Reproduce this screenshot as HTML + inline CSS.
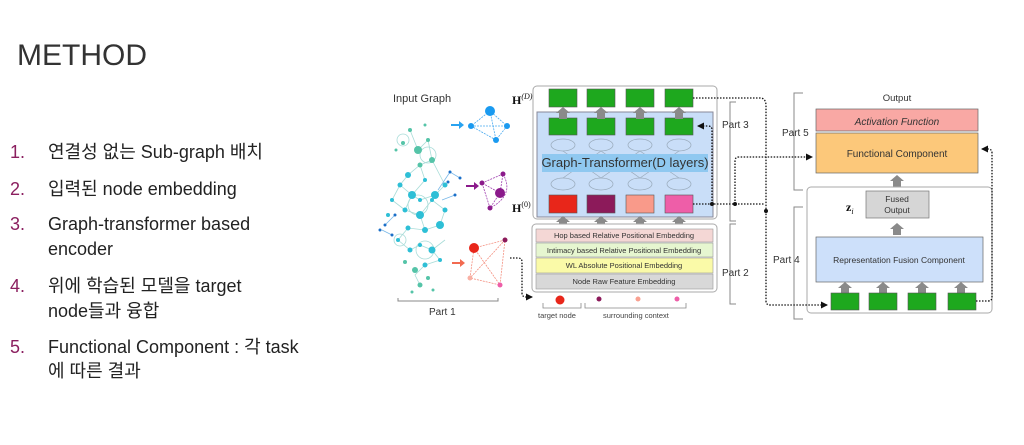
<!DOCTYPE html>
<html><head><meta charset="utf-8"><style>
html,body{margin:0;padding:0;background:#fff;}
svg{display:block;}
.t{font-family:"Liberation Sans",sans-serif;fill:#333;}
.k{font-family:"Liberation Sans","Noto Sans CJK KR",sans-serif;}
</style></head><body>
<svg width="1024" height="445" viewBox="0 0 1024 445" xmlns="http://www.w3.org/2000/svg">
<defs>
<marker id="ah" markerUnits="userSpaceOnUse" markerWidth="7" markerHeight="7" refX="6" refY="3.5" orient="auto"><path d="M0,0 L7,3.5 L0,7 z" fill="#111"/></marker>
<g id="ga"><path d="M-4,6 L-4,0 L-7,0 L0,-6 L7,0 L4,0 L4,6 z" fill="#8a8a8a"/></g>
</defs>
<rect width="1024" height="445" fill="#fff"/>
<text x="17" y="65" class="k" font-size="30" fill="#333">METHOD</text>
<g class="k" font-size="18" fill="#222">
<text x="10" y="158" fill="#8b1f5f">1.</text><text x="48" y="158">연결성 없는 Sub-graph 배치</text>
<text x="10" y="195" fill="#8b1f5f">2.</text><text x="48" y="195">입력된 node embedding</text>
<text x="10" y="230" fill="#8b1f5f">3.</text><text x="48" y="230">Graph-transformer based</text>
<text x="48" y="255">encoder</text>
<text x="10" y="292" fill="#8b1f5f">4.</text><text x="48" y="292">위에 학습된 모델을 target</text>
<text x="48" y="317">node들과 융합</text>
<text x="10" y="353" fill="#8b1f5f">5.</text><text x="48" y="353">Functional Component : 각 task</text>
<text x="48" y="377">에 따른 결과</text>
</g>

<!-- input graph -->
<text x="393" y="102" class="t" font-size="11" fill="#555">Input Graph</text>
<g stroke="#a8dcd8" stroke-width="0.8" fill="none">
<path d="M410,130 L418,150 L428,140 L432,160 L420,165 L408,175 L400,185 L412,195 L420,200 L435,195 L445,185 L432,160 M420,165 L425,180 L412,195 L405,210 L420,215 L432,200 L445,210 L440,225 L425,230 L408,228 L398,240 L410,250 L420,245 L432,250 L440,260 L425,265 L415,275 L420,285 M400,185 L392,200 L405,210 M420,215 L425,230 M432,250 L445,240"/>
<circle cx="428" cy="155" r="8"/><circle cx="418" cy="205" r="10"/><circle cx="425" cy="250" r="9"/><circle cx="403" cy="140" r="6"/><circle cx="400" cy="240" r="6"/>
</g>
<g stroke="#7ab8e8" stroke-width="0.8" fill="none"><path d="M438,190 L450,172 L460,178 M442,200 L455,195 M385,225 L395,215 M382,230 L392,235"/></g>
<g fill="#55c4a8">
<circle cx="410" cy="130" r="2"/><circle cx="418" cy="150" r="4"/><circle cx="428" cy="140" r="2"/><circle cx="432" cy="160" r="3"/><circle cx="420" cy="165" r="2.5"/><circle cx="403" cy="143" r="2"/><circle cx="396" cy="150" r="1.5"/><circle cx="425" cy="125" r="1.5"/>
<circle cx="415" cy="270" r="3"/><circle cx="420" cy="285" r="2.5"/><circle cx="405" cy="262" r="2"/><circle cx="428" cy="278" r="2"/><circle cx="433" cy="290" r="1.5"/><circle cx="412" cy="292" r="1.5"/>
</g>
<g fill="#2ebfd6">
<circle cx="408" cy="175" r="3"/><circle cx="400" cy="185" r="2.5"/><circle cx="412" cy="195" r="4"/><circle cx="420" cy="200" r="2"/><circle cx="435" cy="195" r="4"/><circle cx="445" cy="185" r="2.5"/><circle cx="425" cy="180" r="2"/><circle cx="405" cy="210" r="2.5"/><circle cx="420" cy="215" r="4"/><circle cx="432" cy="200" r="2"/><circle cx="445" cy="210" r="2.5"/><circle cx="440" cy="225" r="4"/><circle cx="425" cy="230" r="3"/><circle cx="408" cy="228" r="2.5"/><circle cx="398" cy="240" r="2"/><circle cx="410" cy="250" r="2.5"/><circle cx="420" cy="245" r="2"/><circle cx="432" cy="250" r="3.5"/><circle cx="440" cy="260" r="2"/><circle cx="425" cy="265" r="2.5"/><circle cx="392" cy="200" r="2"/><circle cx="388" cy="215" r="2"/>
</g>
<g fill="#1a6fc8"><circle cx="450" cy="172" r="1.5"/><circle cx="460" cy="178" r="1.5"/><circle cx="455" cy="195" r="1.5"/><circle cx="448" cy="182" r="1.5"/><circle cx="385" cy="225" r="1.5"/><circle cx="380" cy="230" r="1.5"/><circle cx="395" cy="215" r="1.5"/><circle cx="392" cy="235" r="1.5"/></g>
<path d="M398,298 v3 h100 v-3" stroke="#888" fill="none"/>
<text x="429" y="315" class="t" font-size="10" fill="#555">Part 1</text>

<!-- arrows -->
<path d="M451,124 h8 v-3 l5,4 l-5,4 v-3 h-8 z" fill="#29a3f0"/>
<path d="M466,185 h8 v-3 l5,4 l-5,4 v-3 h-8 z" fill="#8b1a8b"/>
<path d="M452,262 h8 v-3 l5,4 l-5,4 v-3 h-8 z" fill="#f26a50"/>
<!-- blue subgraph -->
<g stroke="#4aaaf0" stroke-width="0.8" stroke-dasharray="2,1" fill="none"><path d="M490,111 L471,126 L496,140 L507,126 L490,111 L496,140 M471,126 L507,126"/></g>
<circle cx="490" cy="111" r="5" fill="#1a9af0"/><circle cx="471" cy="126" r="3" fill="#1a9af0"/><circle cx="507" cy="126" r="3" fill="#1a9af0"/><circle cx="496" cy="140" r="3" fill="#1a9af0"/>
<!-- purple -->
<g stroke="#a040b0" stroke-width="0.8" stroke-dasharray="2,1" fill="none"><path d="M482,183 L503,174 L500,193 L490,208 L482,183 L500,193 M503,174 Q515,195 490,208"/></g>
<circle cx="482" cy="183" r="2.5" fill="#8b1a8b"/><circle cx="503" cy="174" r="2.5" fill="#8b1a8b"/><circle cx="500" cy="193" r="5" fill="#8b1a8b"/><circle cx="490" cy="208" r="2.5" fill="#8b1a8b"/>
<!-- red -->
<g stroke="#f49080" stroke-width="0.8" stroke-dasharray="2,1" fill="none"><path d="M474,248 L505,240 L500,285 L470,278 L474,248 L500,285 M505,240 L470,278"/></g>
<circle cx="474" cy="248" r="5" fill="#e8261a"/><circle cx="505" cy="240" r="2.5" fill="#8c1a5a"/><circle cx="470" cy="278" r="2.5" fill="#f9b0a4"/><circle cx="500" cy="285" r="2.5" fill="#ee5ea8"/>
<path d="M510,258 h8 q4,0 4,4 v31 q0,4 4,4 h6" stroke="#111" stroke-width="1.3" stroke-dasharray="1.5,1.5" fill="none" marker-end="url(#ah)"/>

<!-- Part 3 box -->
<rect x="533" y="86" width="184" height="133" rx="4" fill="#fff" stroke="#aaa"/>
<rect x="537" y="112" width="176" height="105" fill="#c9def8" stroke="#889"/>
<text x="512" y="104" font-family="Liberation Serif,serif" font-size="12" font-weight="bold" fill="#111">H<tspan font-size="8" font-style="italic" font-weight="normal" dy="-5">(D)</tspan></text>
<text x="512" y="212" font-family="Liberation Serif,serif" font-size="12" font-weight="bold" fill="#111">H<tspan font-size="8" font-weight="normal" dy="-5">(0)</tspan></text>
<g fill="#1ea81e" stroke="#555" stroke-width="0.6">
<rect x="549" y="89" width="28" height="18"/><rect x="587" y="89" width="28" height="18"/><rect x="626" y="89" width="28" height="18"/><rect x="665" y="89" width="28" height="18"/>
<rect x="549" y="118" width="28" height="17"/><rect x="587" y="118" width="28" height="17"/><rect x="626" y="118" width="28" height="17"/><rect x="665" y="118" width="28" height="17"/>
</g>
<g><use href="#ga" x="563" y="113"/><use href="#ga" x="601" y="113"/><use href="#ga" x="640" y="113"/><use href="#ga" x="679" y="113"/>
<use href="#ga" x="563" y="222"/><use href="#ga" x="601" y="222"/><use href="#ga" x="640" y="222"/><use href="#ga" x="679" y="222"/></g>
<g fill="none" stroke="#9ab" stroke-width="0.7">
<ellipse cx="563" cy="145" rx="12" ry="6"/><ellipse cx="601" cy="145" rx="12" ry="6"/><ellipse cx="640" cy="145" rx="12" ry="6"/><ellipse cx="679" cy="145" rx="12" ry="6"/>
<ellipse cx="563" cy="184" rx="12" ry="6"/><ellipse cx="601" cy="184" rx="12" ry="6"/><ellipse cx="640" cy="184" rx="12" ry="6"/><ellipse cx="679" cy="184" rx="12" ry="6"/>
<path d="M563,178 L601,151 M601,178 L563,151 M601,178 L640,151 M640,178 L679,151 M679,178 L640,151 M640,178 L601,151"/>
</g>
<rect x="542" y="154" width="166" height="18" fill="#8fc8f0"/>
<text x="625" y="167" text-anchor="middle" class="t" font-size="13" fill="#222">Graph-Transformer(D layers)</text>
<g stroke="#555" stroke-width="0.6">
<rect x="549" y="195" width="28" height="18" fill="#e8261a"/><rect x="587" y="195" width="28" height="18" fill="#8c1a5a"/><rect x="626" y="195" width="28" height="18" fill="#f99a8a"/><rect x="665" y="195" width="28" height="18" fill="#ee5ea8"/>
</g>
<!-- Part 2 box -->
<rect x="532" y="224" width="185" height="68" rx="4" fill="#fff" stroke="#aaa"/>
<g stroke="#999" stroke-width="0.6">
<rect x="536" y="229" width="177" height="13" fill="#f4d7d5"/><rect x="536" y="243" width="177" height="14" fill="#e6f6d0"/><rect x="536" y="258" width="177" height="15" fill="#fafaa8"/><rect x="536" y="274" width="177" height="15" fill="#d8d8d8"/>
</g>
<g font-family="Liberation Sans,sans-serif" font-size="7.5" fill="#333" text-anchor="middle">
<text x="624" y="238">Hop based Relative Positional Embedding</text>
<text x="624" y="253">Intimacy based Relative Positional Embedding</text>
<text x="624" y="268">WL Absolute Positional Embedding</text>
<text x="624" y="284">Node Raw Feature Embedding</text>
</g>
<circle cx="560" cy="300" r="4.5" fill="#e8261a"/><circle cx="599" cy="299" r="2.5" fill="#8c1a5a"/><circle cx="638" cy="299" r="2.5" fill="#f9a090"/><circle cx="677" cy="299" r="2.5" fill="#ee5ea8"/>
<path d="M543,303 v5 h38 v-5 M585,303 v5 h101 v-5" stroke="#888" fill="none" stroke-width="0.8"/>
<g font-family="Liberation Sans,sans-serif" font-size="7.5" fill="#444"><text x="538" y="318">target node</text><text x="603" y="318">surrounding context</text></g>
<!-- brackets part 3,2 -->
<path d="M736,102 h-6 v119 h6 M736,224 h-6 v80 h6" stroke="#888" fill="none"/>
<text x="722" y="128" class="t" font-size="10" fill="#444">Part 3</text>
<text x="722" y="276" class="t" font-size="10" fill="#444">Part 2</text>

<!-- Right -->
<text x="897" y="101" text-anchor="middle" class="t" font-size="9.5" fill="#444">Output</text>
<path d="M803,93 h-9 v97 h9" stroke="#888" fill="none"/>
<text x="782" y="136" class="t" font-size="10" fill="#444">Part 5</text>
<rect x="816" y="109" width="162" height="22" fill="#f9a8a4" stroke="#666" stroke-width="0.7"/>
<text x="897" y="125" text-anchor="middle" class="t" font-size="10" font-style="italic" fill="#222">Activation Function</text>
<rect x="816" y="133" width="162" height="40" fill="#fcc87a" stroke="#666" stroke-width="0.7"/>
<text x="897" y="157" text-anchor="middle" class="t" font-size="10" fill="#222">Functional Component</text>
<use href="#ga" x="897" y="181"/>
<rect x="807" y="187" width="185" height="126" rx="4" fill="#fff" stroke="#aaa"/>
<rect x="866" y="191" width="63" height="27" fill="#d6d6d6" stroke="#777" stroke-width="0.7"/>
<text x="897" y="202" text-anchor="middle" class="t" font-size="8.5" fill="#222">Fused</text>
<text x="897" y="213" text-anchor="middle" class="t" font-size="8.5" fill="#222">Output</text>
<text x="846" y="211" font-family="Liberation Serif,serif" font-size="12" font-weight="bold" fill="#111">z<tspan font-size="8" font-style="italic" font-weight="normal" dy="3">i</tspan></text>
<use href="#ga" x="897" y="229"/>
<path d="M803,207 h-9 v112 h9" stroke="#888" fill="none"/>
<text x="773" y="263" class="t" font-size="10" fill="#444">Part 4</text>
<rect x="816" y="237" width="167" height="45" fill="#cde0fa" stroke="#666" stroke-width="0.7"/>
<text x="899" y="263" text-anchor="middle" class="t" font-size="8.5" fill="#222">Representation Fusion Component</text>
<g><use href="#ga" x="845" y="288"/><use href="#ga" x="883" y="288"/><use href="#ga" x="922" y="288"/><use href="#ga" x="961" y="288"/></g>
<g fill="#1ea81e" stroke="#555" stroke-width="0.6">
<rect x="831" y="293" width="28" height="17"/><rect x="869" y="293" width="28" height="17"/><rect x="908" y="293" width="28" height="17"/><rect x="948" y="293" width="28" height="17"/>
</g>

<!-- dotted connectors -->
<g stroke="#111" stroke-width="1.3" stroke-dasharray="1.5,1.5" fill="none">
<path d="M693,98 h67 q6,0 6,8 v195 q0,4 4,4 h57" marker-end="url(#ah)"/>
<path d="M693,204 h72" />
<path d="M712,204 v-74 q0,-4 -4,-4 h-10" marker-end="url(#ah)"/>
<path d="M735,204 v-43 q0,-4 4,-4 h73" marker-end="url(#ah)"/>
<path d="M976,301 h12 q4,0 4,-4 v-144 q0,-4 -4,-4 h-6" marker-end="url(#ah)"/>
</g>
<circle cx="712" cy="204" r="2" fill="#111"/><circle cx="735" cy="204" r="2" fill="#111"/><circle cx="766" cy="211" r="2" fill="#111"/>
</svg>
</body></html>
